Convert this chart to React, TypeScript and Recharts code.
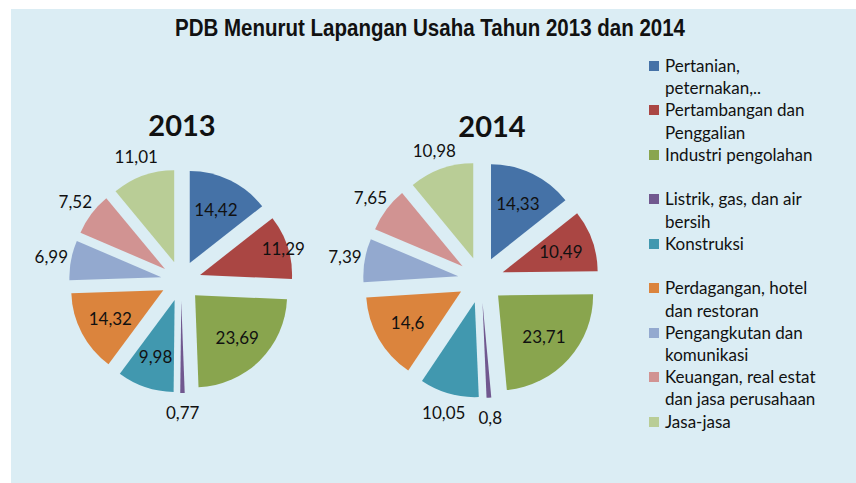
import React from 'react';
import { PieChart, Pie, Cell, Sector, Legend } from 'recharts';

const categories = [
  'Pertanian, peternakan,..',
  'Pertambangan dan Penggalian',
  'Industri pengolahan',
  'Listrik, gas, dan air bersih',
  'Konstruksi',
  'Perdagangan, hotel dan restoran',
  'Pengangkutan dan komunikasi',
  'Keuangan, real estat dan jasa perusahaan',
  'Jasa-jasa',
];
const values2013 = [14.42, 11.29, 23.69, 0.77, 9.98, 14.32, 6.99, 7.52, 11.01];
const values2014 = [14.33, 10.49, 23.71, 0.8, 10.05, 14.6, 7.39, 7.65, 10.98];
const years = ['2013', '2014'];
const colors = ['#4572A7', '#AA4643', '#89A54E', '#71588F', '#4198AF', '#DB843D', '#93A9CF', '#D19392', '#B9CD96'];
const labelMode2013 = ['in', 'end', 'in', 'out', 'in', 'in', 'out', 'out', 'out'];
const labelMode2014 = ['in', 'in', 'in', 'out', 'out', 'in', 'out', 'out', 'out'];

const RAD = Math.PI / 180;
const FONT = 'Lato, "Noto Sans", sans-serif';

const pies = [
  { cx: 181, cy: 281, r: 92, d: 20, values: values2013, modes: labelMode2013, titleX: 182, titleY: 124 },
  { cx: 481, cy: 280, r: 95, d: 23, values: values2014, modes: labelMode2014, titleX: 492, titleY: 125 },
];

const fmt = (v: number) => String(v).replace('.', ',');

function makeShape(d: number) {
  return (props: any) => {
    const mid = (props.startAngle + props.endAngle) / 2;
    const dx = d * Math.cos(mid * RAD);
    const dy = -d * Math.sin(mid * RAD);
    return (
      <Sector
        cx={props.cx + dx}
        cy={props.cy + dy}
        innerRadius={0}
        outerRadius={props.outerRadius}
        startAngle={props.startAngle}
        endAngle={props.endAngle}
        fill={props.fill}
        stroke="none"
      />
    );
  };
}

function makeLabel(cfg: any) {
  return (props: any) => {
    const mode = cfg.modes[props.index];
    const mid = props.midAngle;
    let rr = cfg.d + 0.65 * cfg.r;
    if (mode === 'end') rr = cfg.d + 0.95 * cfg.r;
    if (mode === 'out') rr = cfg.d + cfg.r + 20;
    const x = cfg.cx + rr * Math.cos(mid * RAD);
    const y = cfg.cy - rr * Math.sin(mid * RAD);
    return (
      <text
        key={`l-${props.index}`}
        x={x}
        y={y}
        textAnchor="middle"
        dominantBaseline="central"
        fontFamily={FONT}
        fontSize={17}
        fill="#111"
      >
        {fmt(cfg.values[props.index])}
      </text>
    );
  };
}

const LegendContent = () => (
  <div style={{ position: 'relative', width: 856, height: 483, fontFamily: FONT }}>
    {categories.map((c, i) => (
      <div key={c} style={{ position: 'absolute', left: 649, top: 55 + i * 44.45 }}>
        <div style={{ position: 'absolute', left: 0, top: 6, width: 10, height: 10, background: colors[i] }} />
        <div
          style={{
            position: 'absolute',
            left: 16,
            top: 0,
            width: 160,
            fontSize: 17,
            lineHeight: '22.3px',
            color: '#111',
            textAlign: 'left',
            whiteSpace: 'normal',
          }}
        >
          {c}
        </div>
      </div>
    ))}
  </div>
);

export default function App() {
  return (
    <div style={{ position: 'absolute', left: 0, top: 0, width: 856, height: 483, background: '#fff', overflow: 'hidden' }}>
      <div style={{ position: 'absolute', left: 11, top: 9, width: 845, height: 474, background: '#DBEDF4' }} />
      <div style={{ position: 'absolute', left: 0, top: 0, width: 856, height: 483 }}>
        <PieChart width={856} height={483} margin={{ top: 0, right: 0, bottom: 0, left: 0 }}>
          {pies.map((cfg, k) => {
            const data = categories.map((name, i) => ({ name, value: cfg.values[i] }));
            const shape = makeShape(cfg.d);
            return (
              <Pie
                key={years[k]}
                data={data}
                dataKey="value"
                nameKey="name"
                cx={cfg.cx}
                cy={cfg.cy}
                outerRadius={cfg.r}
                innerRadius={0}
                startAngle={90}
                endAngle={-270}
                stroke="none"
                isAnimationActive={false}
                labelLine={false}
                label={makeLabel(cfg)}
                shape={shape}
                activeShape={shape}
                inactiveShape={shape}
              >
                {data.map((e, i) => (
                  <Cell key={e.name} fill={colors[i]} />
                ))}
              </Pie>
            );
          })}
          <Legend
            layout="vertical"
            align="center"
            verticalAlign="middle"
            content={<LegendContent />}
            wrapperStyle={{ left: 0, top: 0, width: 856, height: 483, pointerEvents: 'none' }}
          />
        </PieChart>
      </div>
      <svg
        width={856}
        height={483}
        style={{ position: 'absolute', left: 0, top: 0, pointerEvents: 'none' }}
      >
        <text
          x={175}
          y={35.5}
          textLength={510}
          lengthAdjust="spacingAndGlyphs"
          fontFamily='"Liberation Sans", Arial, sans-serif'
          fontWeight={700}
          fontSize={23}
          fill="#111"
        >
          PDB Menurut Lapangan Usaha Tahun 2013 dan 2014
        </text>
        {pies.map((cfg, k) => (
          <text
            key={years[k]}
            x={cfg.titleX}
            y={cfg.titleY}
            textAnchor="middle"
            dominantBaseline="central"
            fontFamily={FONT}
            fontWeight={700}
            fontSize={29}
            fill="#111"
          >
            {years[k]}
          </text>
        ))}
      </svg>
    </div>
  );
}
